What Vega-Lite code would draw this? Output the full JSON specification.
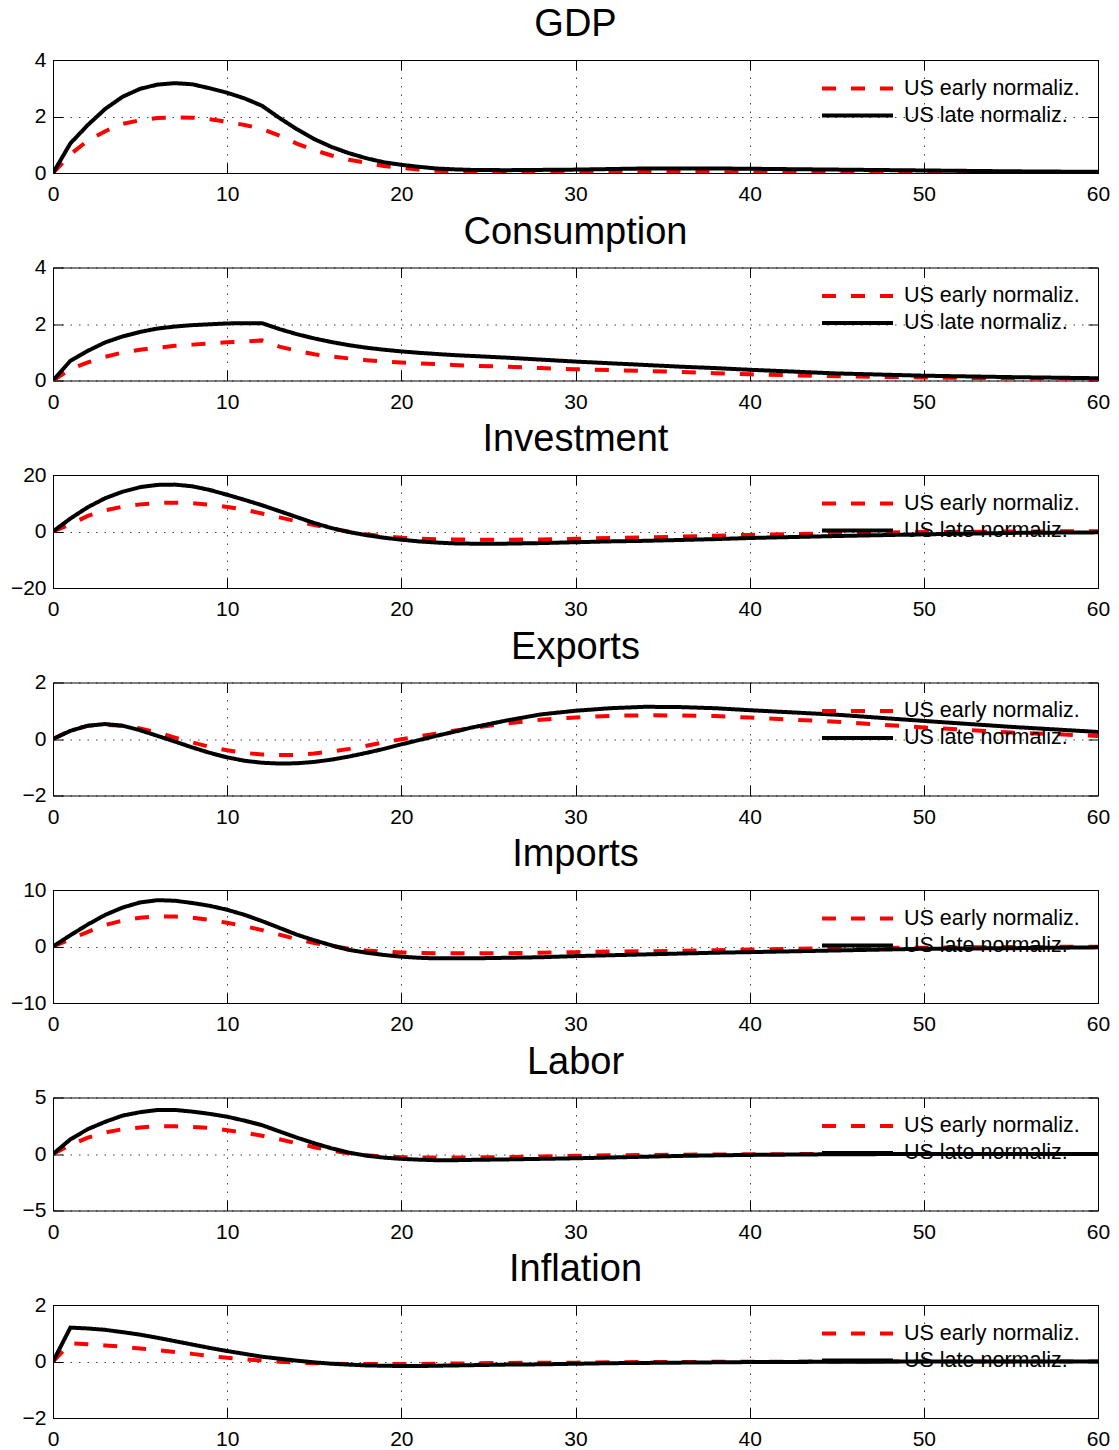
{
"$schema": "https://vega.github.io/schema/vega-lite/v6.json",
"padding": {"left": 10, "top": 6, "right": 5, "bottom": 2},
"config": {
  "font": "Liberation Sans",
  "view": {"stroke": null},
  "title": {"fontSize": 38, "fontWeight": "normal", "color": "#000", "offset": 5, "baseline": "alphabetic", "anchor": "middle"},
  "axis": {"labelFontSize": 21, "labelColor": "#000", "domainColor": "#000", "domainWidth": 1, "tickColor": "#000", "tickWidth": 1, "tickSize": -10, "title": null, "labelFlush": false, "labelOverlap": false, "labelBound": false, "gridColor": "#000", "gridDash": [1.5, 7], "gridOpacity": 0.75, "gridWidth": 1},
  "legend": {"symbolType": "stroke", "symbolSize": 5041, "symbolStrokeWidth": 4, "clipHeight": 27, "rowPadding": 0, "labelFontSize": 21.5, "labelColor": "#000", "labelOffset": 9, "padding": 0, "labelLimit": 0, "symbolOffset": 0}
},
"datasets": {"irf": [
{"k":"GDP","t":0,"l":0,"e":0},{"k":"GDP","t":1,"l":1.05,"e":0.66},{"k":"GDP","t":2,"l":1.7,"e":1.15},{"k":"GDP","t":3,"l":2.27,"e":1.48},{"k":"GDP","t":4,"l":2.7,"e":1.74},{"k":"GDP","t":5,"l":2.98,"e":1.87},{"k":"GDP","t":6,"l":3.13,"e":1.95},{"k":"GDP","t":7,"l":3.18,"e":1.97},{"k":"GDP","t":8,"l":3.14,"e":1.96},{"k":"GDP","t":9,"l":3.0,"e":1.9},{"k":"GDP","t":10,"l":2.84,"e":1.81},{"k":"GDP","t":11,"l":2.64,"e":1.7},{"k":"GDP","t":12,"l":2.38,"e":1.56},{"k":"GDP","t":13,"l":1.95,"e":1.32},{"k":"GDP","t":14,"l":1.55,"e":1.04},{"k":"GDP","t":15,"l":1.2,"e":0.81},{"k":"GDP","t":16,"l":0.92,"e":0.62},{"k":"GDP","t":17,"l":0.7,"e":0.47},{"k":"GDP","t":18,"l":0.52,"e":0.36},{"k":"GDP","t":19,"l":0.38,"e":0.25},{"k":"GDP","t":20,"l":0.29,"e":0.18},{"k":"GDP","t":21,"l":0.22,"e":0.12},{"k":"GDP","t":22,"l":0.16,"e":0.08},{"k":"GDP","t":23,"l":0.13,"e":0.06},{"k":"GDP","t":24,"l":0.11,"e":0.05},{"k":"GDP","t":26,"l":0.1,"e":0.04},{"k":"GDP","t":28,"l":0.11,"e":0.04},{"k":"GDP","t":30,"l":0.12,"e":0.04},{"k":"GDP","t":32,"l":0.14,"e":0.04},{"k":"GDP","t":34,"l":0.16,"e":0.04},{"k":"GDP","t":36,"l":0.16,"e":0.04},{"k":"GDP","t":38,"l":0.16,"e":0.03},{"k":"GDP","t":40,"l":0.15,"e":0.03},{"k":"GDP","t":45,"l":0.12,"e":0.03},{"k":"GDP","t":50,"l":0.09,"e":0.02},{"k":"GDP","t":55,"l":0.06,"e":0.02},{"k":"GDP","t":60,"l":0.04,"e":0.01},
{"k":"C","t":0,"l":0,"e":0},{"k":"C","t":1,"l":0.7,"e":0.4},{"k":"C","t":2,"l":1.05,"e":0.64},{"k":"C","t":3,"l":1.35,"e":0.84},{"k":"C","t":4,"l":1.56,"e":0.99},{"k":"C","t":5,"l":1.72,"e":1.09},{"k":"C","t":6,"l":1.84,"e":1.16},{"k":"C","t":7,"l":1.91,"e":1.23},{"k":"C","t":8,"l":1.96,"e":1.27},{"k":"C","t":9,"l":1.99,"e":1.31},{"k":"C","t":10,"l":2.02,"e":1.35},{"k":"C","t":11,"l":2.03,"e":1.38},{"k":"C","t":12,"l":2.03,"e":1.42},{"k":"C","t":13,"l":1.82,"e":1.2},{"k":"C","t":14,"l":1.64,"e":1.05},{"k":"C","t":15,"l":1.49,"e":0.93},{"k":"C","t":16,"l":1.36,"e":0.85},{"k":"C","t":17,"l":1.25,"e":0.78},{"k":"C","t":18,"l":1.16,"e":0.72},{"k":"C","t":19,"l":1.09,"e":0.67},{"k":"C","t":20,"l":1.03,"e":0.64},{"k":"C","t":21,"l":0.98,"e":0.61},{"k":"C","t":22,"l":0.94,"e":0.58},{"k":"C","t":23,"l":0.9,"e":0.55},{"k":"C","t":24,"l":0.87,"e":0.52},{"k":"C","t":26,"l":0.81,"e":0.49},{"k":"C","t":28,"l":0.74,"e":0.44},{"k":"C","t":30,"l":0.67,"e":0.4},{"k":"C","t":32,"l":0.61,"e":0.37},{"k":"C","t":34,"l":0.55,"e":0.34},{"k":"C","t":36,"l":0.49,"e":0.3},{"k":"C","t":38,"l":0.44,"e":0.26},{"k":"C","t":40,"l":0.38,"e":0.22},{"k":"C","t":45,"l":0.25,"e":0.15},{"k":"C","t":50,"l":0.17,"e":0.11},{"k":"C","t":55,"l":0.12,"e":0.07},{"k":"C","t":60,"l":0.08,"e":0.05},
{"k":"I","t":0,"l":0,"e":0},{"k":"I","t":1,"l":4.6,"e":2.6},{"k":"I","t":2,"l":8.6,"e":5.5},{"k":"I","t":3,"l":11.8,"e":7.5},{"k":"I","t":4,"l":14.1,"e":8.8},{"k":"I","t":5,"l":15.7,"e":9.6},{"k":"I","t":6,"l":16.5,"e":10.1},{"k":"I","t":7,"l":16.6,"e":10.2},{"k":"I","t":8,"l":16.0,"e":10.0},{"k":"I","t":9,"l":14.7,"e":9.5},{"k":"I","t":10,"l":13.0,"e":8.7},{"k":"I","t":11,"l":11.2,"e":7.7},{"k":"I","t":12,"l":9.3,"e":6.4},{"k":"I","t":13,"l":7.2,"e":5.0},{"k":"I","t":14,"l":5.1,"e":3.6},{"k":"I","t":15,"l":3.0,"e":2.3},{"k":"I","t":16,"l":1.2,"e":1.0},{"k":"I","t":17,"l":-0.2,"e":-0.1},{"k":"I","t":18,"l":-1.3,"e":-1.0},{"k":"I","t":19,"l":-2.2,"e":-1.7},{"k":"I","t":20,"l":-2.9,"e":-2.2},{"k":"I","t":21,"l":-3.5,"e":-2.5},{"k":"I","t":22,"l":-3.9,"e":-2.7},{"k":"I","t":23,"l":-4.2,"e":-2.8},{"k":"I","t":24,"l":-4.3,"e":-2.9},{"k":"I","t":26,"l":-4.3,"e":-2.9},{"k":"I","t":28,"l":-4.1,"e":-2.8},{"k":"I","t":30,"l":-3.8,"e":-2.6},{"k":"I","t":32,"l":-3.5,"e":-2.3},{"k":"I","t":34,"l":-3.3,"e":-2.1},{"k":"I","t":36,"l":-3.0,"e":-1.8},{"k":"I","t":38,"l":-2.7,"e":-1.5},{"k":"I","t":40,"l":-2.3,"e":-1.2},{"k":"I","t":45,"l":-1.6,"e":-0.6},{"k":"I","t":50,"l":-1.0,"e":-0.2},{"k":"I","t":55,"l":-0.5,"e":0.0},{"k":"I","t":60,"l":-0.3,"e":0.1},
{"k":"X","t":0,"l":0,"e":0},{"k":"X","t":1,"l":0.29,"e":0.31},{"k":"X","t":2,"l":0.47,"e":0.47},{"k":"X","t":3,"l":0.53,"e":0.5},{"k":"X","t":4,"l":0.47,"e":0.47},{"k":"X","t":5,"l":0.31,"e":0.37},{"k":"X","t":6,"l":0.11,"e":0.23},{"k":"X","t":7,"l":-0.09,"e":0.05},{"k":"X","t":8,"l":-0.3,"e":-0.12},{"k":"X","t":9,"l":-0.49,"e":-0.28},{"k":"X","t":10,"l":-0.65,"e":-0.4},{"k":"X","t":11,"l":-0.77,"e":-0.49},{"k":"X","t":12,"l":-0.84,"e":-0.55},{"k":"X","t":13,"l":-0.87,"e":-0.57},{"k":"X","t":14,"l":-0.86,"e":-0.56},{"k":"X","t":15,"l":-0.81,"e":-0.51},{"k":"X","t":16,"l":-0.73,"e":-0.44},{"k":"X","t":17,"l":-0.62,"e":-0.35},{"k":"X","t":18,"l":-0.49,"e":-0.24},{"k":"X","t":19,"l":-0.35,"e":-0.12},{"k":"X","t":20,"l":-0.19,"e":-0.01},{"k":"X","t":21,"l":-0.04,"e":0.09},{"k":"X","t":22,"l":0.11,"e":0.19},{"k":"X","t":23,"l":0.25,"e":0.29},{"k":"X","t":24,"l":0.4,"e":0.38},{"k":"X","t":26,"l":0.65,"e":0.55},{"k":"X","t":28,"l":0.87,"e":0.68},{"k":"X","t":30,"l":1.0,"e":0.76},{"k":"X","t":32,"l":1.09,"e":0.82},{"k":"X","t":34,"l":1.14,"e":0.84},{"k":"X","t":36,"l":1.13,"e":0.83},{"k":"X","t":38,"l":1.09,"e":0.81},{"k":"X","t":40,"l":1.02,"e":0.76},{"k":"X","t":45,"l":0.86,"e":0.61},{"k":"X","t":50,"l":0.64,"e":0.41},{"k":"X","t":55,"l":0.43,"e":0.23},{"k":"X","t":60,"l":0.25,"e":0.11},
{"k":"M","t":0,"l":0,"e":0},{"k":"M","t":1,"l":2.0,"e":1.3},{"k":"M","t":2,"l":3.9,"e":2.6},{"k":"M","t":3,"l":5.6,"e":3.8},{"k":"M","t":4,"l":6.9,"e":4.6},{"k":"M","t":5,"l":7.8,"e":5.1},{"k":"M","t":6,"l":8.2,"e":5.3},{"k":"M","t":7,"l":8.1,"e":5.3},{"k":"M","t":8,"l":7.7,"e":5.1},{"k":"M","t":9,"l":7.2,"e":4.7},{"k":"M","t":10,"l":6.5,"e":4.2},{"k":"M","t":11,"l":5.6,"e":3.6},{"k":"M","t":12,"l":4.5,"e":2.9},{"k":"M","t":13,"l":3.3,"e":2.1},{"k":"M","t":14,"l":2.1,"e":1.3},{"k":"M","t":15,"l":1.1,"e":0.6},{"k":"M","t":16,"l":0.2,"e":0.1},{"k":"M","t":17,"l":-0.6,"e":-0.4},{"k":"M","t":18,"l":-1.1,"e":-0.7},{"k":"M","t":19,"l":-1.5,"e":-0.9},{"k":"M","t":20,"l":-1.8,"e":-1.05},{"k":"M","t":21,"l":-2.0,"e":-1.15},{"k":"M","t":22,"l":-2.1,"e":-1.2},{"k":"M","t":23,"l":-2.1,"e":-1.2},{"k":"M","t":24,"l":-2.1,"e":-1.2},{"k":"M","t":26,"l":-2.0,"e":-1.2},{"k":"M","t":28,"l":-1.9,"e":-1.1},{"k":"M","t":30,"l":-1.7,"e":-1.0},{"k":"M","t":32,"l":-1.55,"e":-0.9},{"k":"M","t":34,"l":-1.4,"e":-0.85},{"k":"M","t":36,"l":-1.25,"e":-0.75},{"k":"M","t":38,"l":-1.1,"e":-0.65},{"k":"M","t":40,"l":-1.0,"e":-0.55},{"k":"M","t":45,"l":-0.7,"e":-0.3},{"k":"M","t":50,"l":-0.4,"e":-0.2},{"k":"M","t":55,"l":-0.3,"e":-0.1},{"k":"M","t":60,"l":-0.15,"e":-0.03},
{"k":"L","t":0,"l":0,"e":0},{"k":"L","t":1,"l":1.3,"e":0.8},{"k":"L","t":2,"l":2.2,"e":1.45},{"k":"L","t":3,"l":2.85,"e":1.9},{"k":"L","t":4,"l":3.4,"e":2.2},{"k":"L","t":5,"l":3.7,"e":2.35},{"k":"L","t":6,"l":3.9,"e":2.45},{"k":"L","t":7,"l":3.9,"e":2.45},{"k":"L","t":8,"l":3.75,"e":2.4},{"k":"L","t":9,"l":3.55,"e":2.3},{"k":"L","t":10,"l":3.3,"e":2.1},{"k":"L","t":11,"l":2.95,"e":1.88},{"k":"L","t":12,"l":2.55,"e":1.62},{"k":"L","t":13,"l":2.0,"e":1.3},{"k":"L","t":14,"l":1.45,"e":0.95},{"k":"L","t":15,"l":0.95,"e":0.6},{"k":"L","t":16,"l":0.5,"e":0.3},{"k":"L","t":17,"l":0.12,"e":0.05},{"k":"L","t":18,"l":-0.15,"e":-0.12},{"k":"L","t":19,"l":-0.32,"e":-0.22},{"k":"L","t":20,"l":-0.43,"e":-0.28},{"k":"L","t":21,"l":-0.5,"e":-0.3},{"k":"L","t":22,"l":-0.55,"e":-0.3},{"k":"L","t":23,"l":-0.55,"e":-0.3},{"k":"L","t":24,"l":-0.52,"e":-0.3},{"k":"L","t":26,"l":-0.48,"e":-0.28},{"k":"L","t":28,"l":-0.43,"e":-0.22},{"k":"L","t":30,"l":-0.38,"e":-0.16},{"k":"L","t":32,"l":-0.31,"e":-0.12},{"k":"L","t":34,"l":-0.24,"e":-0.09},{"k":"L","t":36,"l":-0.17,"e":-0.06},{"k":"L","t":38,"l":-0.12,"e":-0.04},{"k":"L","t":40,"l":-0.08,"e":-0.02},{"k":"L","t":45,"l":-0.02,"e":0},{"k":"L","t":50,"l":0,"e":0},{"k":"L","t":55,"l":0,"e":0},{"k":"L","t":60,"l":0,"e":0},
{"k":"P","t":0,"l":0,"e":0},{"k":"P","t":1,"l":1.2,"e":0.64},{"k":"P","t":2,"l":1.17,"e":0.61},{"k":"P","t":3,"l":1.12,"e":0.57},{"k":"P","t":4,"l":1.04,"e":0.52},{"k":"P","t":5,"l":0.95,"e":0.46},{"k":"P","t":6,"l":0.84,"e":0.4},{"k":"P","t":7,"l":0.72,"e":0.34},{"k":"P","t":8,"l":0.6,"e":0.27},{"k":"P","t":9,"l":0.48,"e":0.2},{"k":"P","t":10,"l":0.37,"e":0.13},{"k":"P","t":11,"l":0.27,"e":0.08},{"k":"P","t":12,"l":0.17,"e":0.03},{"k":"P","t":13,"l":0.1,"e":-0.01},{"k":"P","t":14,"l":0.03,"e":-0.04},{"k":"P","t":15,"l":-0.03,"e":-0.06},{"k":"P","t":16,"l":-0.08,"e":-0.08},{"k":"P","t":17,"l":-0.11,"e":-0.09},{"k":"P","t":18,"l":-0.14,"e":-0.09},{"k":"P","t":19,"l":-0.15,"e":-0.09},{"k":"P","t":20,"l":-0.16,"e":-0.09},{"k":"P","t":21,"l":-0.16,"e":-0.09},{"k":"P","t":22,"l":-0.15,"e":-0.08},{"k":"P","t":23,"l":-0.14,"e":-0.07},{"k":"P","t":24,"l":-0.13,"e":-0.07},{"k":"P","t":26,"l":-0.11,"e":-0.05},{"k":"P","t":28,"l":-0.1,"e":-0.04},{"k":"P","t":30,"l":-0.08,"e":-0.04},{"k":"P","t":32,"l":-0.06,"e":-0.03},{"k":"P","t":34,"l":-0.05,"e":-0.02},{"k":"P","t":36,"l":-0.04,"e":-0.02},{"k":"P","t":38,"l":-0.03,"e":-0.01},{"k":"P","t":40,"l":-0.02,"e":-0.01},{"k":"P","t":45,"l":-0.01,"e":0},{"k":"P","t":50,"l":0,"e":0},{"k":"P","t":55,"l":0,"e":0},{"k":"P","t":60,"l":0,"e":0}
]},
"spacing": 94.5,
"bounds": "flush",
"resolve": {"scale": {"color": "independent", "strokeDash": "independent"}, "legend": {"color": "independent", "strokeDash": "independent"}},
"vconcat": [
{"title": "GDP", "width": 1045, "height": 113, "data": {"name": "irf"},
 "transform": [{"filter": "datum.k == 'GDP'"}, {"fold": ["e", "l"], "as": ["s", "v"]}],
 "resolve": {"axis": {"x": "independent", "y": "independent"}},
 "layer": [
  {"mark": {"type": "line", "strokeWidth": 4, "clip": true},
   "encoding": {
    "x": {"field": "t", "type": "quantitative", "scale": {"domain": [0, 60], "nice": false, "zero": false}, "axis": {"orient": "bottom", "values": [0,10,20,30,40,50,60], "grid": true, "labelPadding": 20.5}},
    "y": {"field": "v", "type": "quantitative", "scale": {"domain": [0, 4], "nice": false, "zero": false}, "axis": {"orient": "left", "values": [0,2,4], "grid": true, "labelPadding": 17}},
    "color": {"field": "s", "type": "nominal", "scale": {"domain": ["e", "l"], "range": ["#ff0000", "#000000"]}, "legend": {"title": null, "orient": "none", "legendX": 767, "legendY": 15, "labelExpr": "datum.label == 'e' ? 'US early normaliz.' : 'US late normaliz.'"}},
    "strokeDash": {"field": "s", "type": "nominal", "scale": {"domain": ["e", "l"], "range": [[14, 15], [1, 0]]}, "legend": {"title": null, "orient": "none", "legendX": 767, "legendY": 15, "labelExpr": "datum.label == 'e' ? 'US early normaliz.' : 'US late normaliz.'"}}
   }},
  {"mark": {"type": "line", "strokeOpacity": 0},
   "encoding": {
    "x": {"field": "t", "type": "quantitative", "axis": {"orient": "top", "values": [0,10,20,30,40,50,60], "labels": false, "grid": false}},
    "y": {"field": "v", "type": "quantitative", "axis": {"orient": "right", "values": [0,2,4], "labels": false, "grid": false}}
   }}
 ]},
{"title": "Consumption", "width": 1045, "height": 113, "data": {"name": "irf"},
 "transform": [{"filter": "datum.k == 'C'"}, {"fold": ["e", "l"], "as": ["s", "v"]}],
 "resolve": {"axis": {"x": "independent", "y": "independent"}},
 "layer": [
  {"mark": {"type": "line", "strokeWidth": 4, "clip": true},
   "encoding": {
    "x": {"field": "t", "type": "quantitative", "scale": {"domain": [0, 60], "nice": false, "zero": false}, "axis": {"orient": "bottom", "values": [0,10,20,30,40,50,60], "grid": true, "labelPadding": 20.5}},
    "y": {"field": "v", "type": "quantitative", "scale": {"domain": [0, 4], "nice": false, "zero": false}, "axis": {"orient": "left", "values": [0,2,4], "grid": true, "labelPadding": 17}},
    "color": {"field": "s", "type": "nominal", "scale": {"domain": ["e", "l"], "range": ["#ff0000", "#000000"]}, "legend": {"title": null, "orient": "none", "legendX": 767, "legendY": 15, "labelExpr": "datum.label == 'e' ? 'US early normaliz.' : 'US late normaliz.'"}},
    "strokeDash": {"field": "s", "type": "nominal", "scale": {"domain": ["e", "l"], "range": [[14, 15], [1, 0]]}, "legend": {"title": null, "orient": "none", "legendX": 767, "legendY": 15, "labelExpr": "datum.label == 'e' ? 'US early normaliz.' : 'US late normaliz.'"}}
   }},
  {"mark": {"type": "line", "strokeOpacity": 0},
   "encoding": {
    "x": {"field": "t", "type": "quantitative", "axis": {"orient": "top", "values": [0,10,20,30,40,50,60], "labels": false, "grid": false}},
    "y": {"field": "v", "type": "quantitative", "axis": {"orient": "right", "values": [0,2,4], "labels": false, "grid": false}}
   }}
 ]},
{"title": "Investment", "width": 1045, "height": 113, "data": {"name": "irf"},
 "transform": [{"filter": "datum.k == 'I'"}, {"fold": ["e", "l"], "as": ["s", "v"]}],
 "resolve": {"axis": {"x": "independent", "y": "independent"}},
 "layer": [
  {"mark": {"type": "line", "strokeWidth": 4, "clip": true},
   "encoding": {
    "x": {"field": "t", "type": "quantitative", "scale": {"domain": [0, 60], "nice": false, "zero": false}, "axis": {"orient": "bottom", "values": [0,10,20,30,40,50,60], "grid": true, "labelPadding": 20.5}},
    "y": {"field": "v", "type": "quantitative", "scale": {"domain": [-20, 20], "nice": false, "zero": false}, "axis": {"orient": "left", "values": [-20,0,20], "grid": true, "labelPadding": 17}},
    "color": {"field": "s", "type": "nominal", "scale": {"domain": ["e", "l"], "range": ["#ff0000", "#000000"]}, "legend": {"title": null, "orient": "none", "legendX": 767, "legendY": 15, "labelExpr": "datum.label == 'e' ? 'US early normaliz.' : 'US late normaliz.'"}},
    "strokeDash": {"field": "s", "type": "nominal", "scale": {"domain": ["e", "l"], "range": [[14, 15], [1, 0]]}, "legend": {"title": null, "orient": "none", "legendX": 767, "legendY": 15, "labelExpr": "datum.label == 'e' ? 'US early normaliz.' : 'US late normaliz.'"}}
   }},
  {"mark": {"type": "line", "strokeOpacity": 0},
   "encoding": {
    "x": {"field": "t", "type": "quantitative", "axis": {"orient": "top", "values": [0,10,20,30,40,50,60], "labels": false, "grid": false}},
    "y": {"field": "v", "type": "quantitative", "axis": {"orient": "right", "values": [-20,0,20], "labels": false, "grid": false}}
   }}
 ]},
{"title": "Exports", "width": 1045, "height": 113, "data": {"name": "irf"},
 "transform": [{"filter": "datum.k == 'X'"}, {"fold": ["e", "l"], "as": ["s", "v"]}],
 "resolve": {"axis": {"x": "independent", "y": "independent"}},
 "layer": [
  {"mark": {"type": "line", "strokeWidth": 4, "clip": true},
   "encoding": {
    "x": {"field": "t", "type": "quantitative", "scale": {"domain": [0, 60], "nice": false, "zero": false}, "axis": {"orient": "bottom", "values": [0,10,20,30,40,50,60], "grid": true, "labelPadding": 20.5}},
    "y": {"field": "v", "type": "quantitative", "scale": {"domain": [-2, 2], "nice": false, "zero": false}, "axis": {"orient": "left", "values": [-2,0,2], "grid": true, "labelPadding": 17}},
    "color": {"field": "s", "type": "nominal", "scale": {"domain": ["e", "l"], "range": ["#ff0000", "#000000"]}, "legend": {"title": null, "orient": "none", "legendX": 767, "legendY": 15, "labelExpr": "datum.label == 'e' ? 'US early normaliz.' : 'US late normaliz.'"}},
    "strokeDash": {"field": "s", "type": "nominal", "scale": {"domain": ["e", "l"], "range": [[14, 15], [1, 0]]}, "legend": {"title": null, "orient": "none", "legendX": 767, "legendY": 15, "labelExpr": "datum.label == 'e' ? 'US early normaliz.' : 'US late normaliz.'"}}
   }},
  {"mark": {"type": "line", "strokeOpacity": 0},
   "encoding": {
    "x": {"field": "t", "type": "quantitative", "axis": {"orient": "top", "values": [0,10,20,30,40,50,60], "labels": false, "grid": false}},
    "y": {"field": "v", "type": "quantitative", "axis": {"orient": "right", "values": [-2,0,2], "labels": false, "grid": false}}
   }}
 ]},
{"title": "Imports", "width": 1045, "height": 113, "data": {"name": "irf"},
 "transform": [{"filter": "datum.k == 'M'"}, {"fold": ["e", "l"], "as": ["s", "v"]}],
 "resolve": {"axis": {"x": "independent", "y": "independent"}},
 "layer": [
  {"mark": {"type": "line", "strokeWidth": 4, "clip": true},
   "encoding": {
    "x": {"field": "t", "type": "quantitative", "scale": {"domain": [0, 60], "nice": false, "zero": false}, "axis": {"orient": "bottom", "values": [0,10,20,30,40,50,60], "grid": true, "labelPadding": 20.5}},
    "y": {"field": "v", "type": "quantitative", "scale": {"domain": [-10, 10], "nice": false, "zero": false}, "axis": {"orient": "left", "values": [-10,0,10], "grid": true, "labelPadding": 17}},
    "color": {"field": "s", "type": "nominal", "scale": {"domain": ["e", "l"], "range": ["#ff0000", "#000000"]}, "legend": {"title": null, "orient": "none", "legendX": 767, "legendY": 15, "labelExpr": "datum.label == 'e' ? 'US early normaliz.' : 'US late normaliz.'"}},
    "strokeDash": {"field": "s", "type": "nominal", "scale": {"domain": ["e", "l"], "range": [[14, 15], [1, 0]]}, "legend": {"title": null, "orient": "none", "legendX": 767, "legendY": 15, "labelExpr": "datum.label == 'e' ? 'US early normaliz.' : 'US late normaliz.'"}}
   }},
  {"mark": {"type": "line", "strokeOpacity": 0},
   "encoding": {
    "x": {"field": "t", "type": "quantitative", "axis": {"orient": "top", "values": [0,10,20,30,40,50,60], "labels": false, "grid": false}},
    "y": {"field": "v", "type": "quantitative", "axis": {"orient": "right", "values": [-10,0,10], "labels": false, "grid": false}}
   }}
 ]},
{"title": "Labor", "width": 1045, "height": 113, "data": {"name": "irf"},
 "transform": [{"filter": "datum.k == 'L'"}, {"fold": ["e", "l"], "as": ["s", "v"]}],
 "resolve": {"axis": {"x": "independent", "y": "independent"}},
 "layer": [
  {"mark": {"type": "line", "strokeWidth": 4, "clip": true},
   "encoding": {
    "x": {"field": "t", "type": "quantitative", "scale": {"domain": [0, 60], "nice": false, "zero": false}, "axis": {"orient": "bottom", "values": [0,10,20,30,40,50,60], "grid": true, "labelPadding": 20.5}},
    "y": {"field": "v", "type": "quantitative", "scale": {"domain": [-5, 5], "nice": false, "zero": false}, "axis": {"orient": "left", "values": [-5,0,5], "grid": true, "labelPadding": 17}},
    "color": {"field": "s", "type": "nominal", "scale": {"domain": ["e", "l"], "range": ["#ff0000", "#000000"]}, "legend": {"title": null, "orient": "none", "legendX": 767, "legendY": 15, "labelExpr": "datum.label == 'e' ? 'US early normaliz.' : 'US late normaliz.'"}},
    "strokeDash": {"field": "s", "type": "nominal", "scale": {"domain": ["e", "l"], "range": [[14, 15], [1, 0]]}, "legend": {"title": null, "orient": "none", "legendX": 767, "legendY": 15, "labelExpr": "datum.label == 'e' ? 'US early normaliz.' : 'US late normaliz.'"}}
   }},
  {"mark": {"type": "line", "strokeOpacity": 0},
   "encoding": {
    "x": {"field": "t", "type": "quantitative", "axis": {"orient": "top", "values": [0,10,20,30,40,50,60], "labels": false, "grid": false}},
    "y": {"field": "v", "type": "quantitative", "axis": {"orient": "right", "values": [-5,0,5], "labels": false, "grid": false}}
   }}
 ]},
{"title": "Inflation", "width": 1045, "height": 113, "data": {"name": "irf"},
 "transform": [{"filter": "datum.k == 'P'"}, {"fold": ["e", "l"], "as": ["s", "v"]}],
 "resolve": {"axis": {"x": "independent", "y": "independent"}},
 "layer": [
  {"mark": {"type": "line", "strokeWidth": 4, "clip": true},
   "encoding": {
    "x": {"field": "t", "type": "quantitative", "scale": {"domain": [0, 60], "nice": false, "zero": false}, "axis": {"orient": "bottom", "values": [0,10,20,30,40,50,60], "grid": true, "labelPadding": 20.5}},
    "y": {"field": "v", "type": "quantitative", "scale": {"domain": [-2, 2], "nice": false, "zero": false}, "axis": {"orient": "left", "values": [-2,0,2], "grid": true, "labelPadding": 17}},
    "color": {"field": "s", "type": "nominal", "scale": {"domain": ["e", "l"], "range": ["#ff0000", "#000000"]}, "legend": {"title": null, "orient": "none", "legendX": 767, "legendY": 15, "labelExpr": "datum.label == 'e' ? 'US early normaliz.' : 'US late normaliz.'"}},
    "strokeDash": {"field": "s", "type": "nominal", "scale": {"domain": ["e", "l"], "range": [[14, 15], [1, 0]]}, "legend": {"title": null, "orient": "none", "legendX": 767, "legendY": 15, "labelExpr": "datum.label == 'e' ? 'US early normaliz.' : 'US late normaliz.'"}}
   }},
  {"mark": {"type": "line", "strokeOpacity": 0},
   "encoding": {
    "x": {"field": "t", "type": "quantitative", "axis": {"orient": "top", "values": [0,10,20,30,40,50,60], "labels": false, "grid": false}},
    "y": {"field": "v", "type": "quantitative", "axis": {"orient": "right", "values": [-2,0,2], "labels": false, "grid": false}}
   }}
 ]}
]
}
